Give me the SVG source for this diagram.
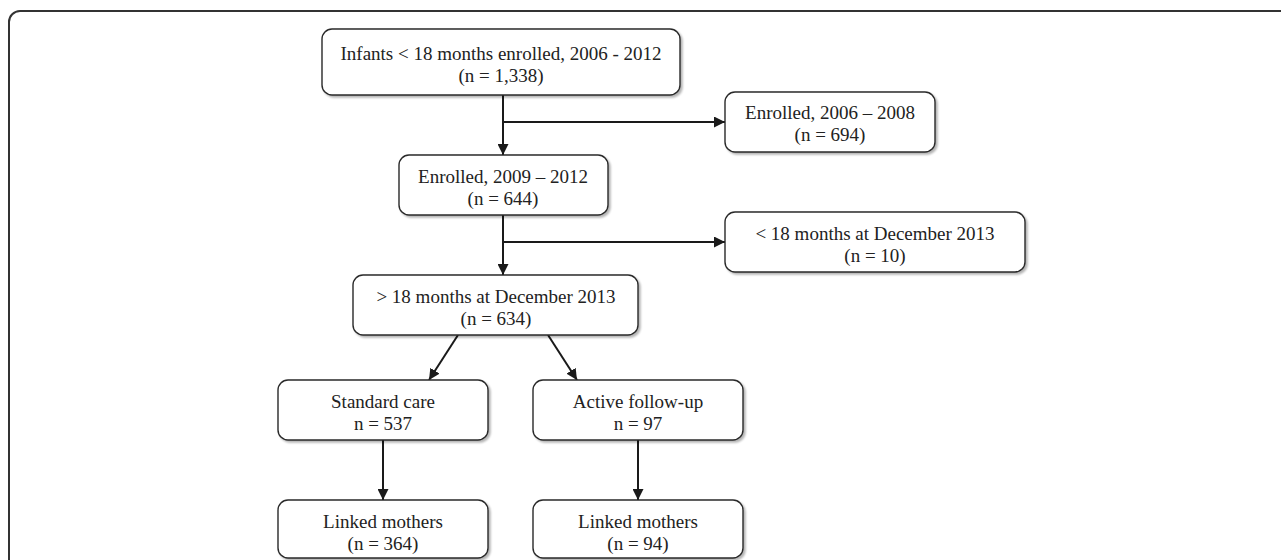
<svg xmlns="http://www.w3.org/2000/svg" width="1281" height="560" viewBox="0 0 1281 560">
<defs>
<marker id="arr" viewBox="0 0 10 10" refX="10" refY="5" markerWidth="11" markerHeight="11" markerUnits="userSpaceOnUse" orient="auto">
<path d="M0,0 L10,5 L0,10 z" fill="#1a1a1a"/>
</marker>
<filter id="sh" x="-10%" y="-10%" width="130%" height="140%">
<feGaussianBlur in="SourceAlpha" stdDeviation="1"/>
<feOffset dx="1.5" dy="1.5" result="o"/>
<feComponentTransfer><feFuncA type="linear" slope="0.3"/></feComponentTransfer>
<feMerge><feMergeNode/><feMergeNode in="SourceGraphic"/></feMerge>
</filter>
</defs>
<style>
.box{fill:#fff;stroke:#2a2a2a;stroke-width:1.4;filter:url(#sh)}
.t{font-family:"Liberation Serif","Times New Roman",serif;font-size:19px;fill:#222;text-anchor:middle}
.c{stroke:#1a1a1a;stroke-width:2;fill:none}
</style>
<rect x="0" y="0" width="1281" height="560" fill="#fff"/>
<rect x="9" y="11" width="1320" height="620" rx="11" fill="none" stroke="#333" stroke-width="2"/>
<g id="connectors">
<line class="c" x1="503" y1="95" x2="503" y2="155" marker-end="url(#arr)"/>
<line class="c" x1="503" y1="122" x2="725" y2="122" marker-end="url(#arr)"/>
<line class="c" x1="503" y1="215" x2="503" y2="275" marker-end="url(#arr)"/>
<line class="c" x1="503" y1="242" x2="725" y2="242" marker-end="url(#arr)"/>
<line class="c" x1="458" y1="335" x2="429" y2="380" marker-end="url(#arr)"/>
<line class="c" x1="548" y1="335" x2="577" y2="380" marker-end="url(#arr)"/>
<line class="c" x1="383" y1="440" x2="383" y2="500" marker-end="url(#arr)"/>
<line class="c" x1="638" y1="440" x2="638" y2="500" marker-end="url(#arr)"/>
</g>
<g id="n1">
<rect class="box" x="322" y="29" width="358" height="66" rx="10"/>
<text class="t" x="501" y="60">Infants &lt; 18 months enrolled, 2006 - 2012</text>
<text class="t" x="501" y="82">(n = 1,338)</text>
</g>
<g id="n2">
<rect class="box" x="725" y="92" width="210" height="60" rx="10"/>
<text class="t" x="830" y="119">Enrolled, 2006 – 2008</text>
<text class="t" x="830" y="141">(n = 694)</text>
</g>
<g id="n3">
<rect class="box" x="399" y="155" width="209" height="60" rx="10"/>
<text class="t" x="503" y="183">Enrolled, 2009 – 2012</text>
<text class="t" x="503" y="205">(n = 644)</text>
</g>
<g id="n4">
<rect class="box" x="725" y="212" width="300" height="60" rx="10"/>
<text class="t" x="875" y="240">&lt; 18 months at December 2013</text>
<text class="t" x="875" y="262">(n = 10)</text>
</g>
<g id="n5">
<rect class="box" x="353" y="275" width="285" height="60" rx="10"/>
<text class="t" x="496" y="303">&gt; 18 months at December 2013</text>
<text class="t" x="496" y="325">(n = 634)</text>
</g>
<g id="n6">
<rect class="box" x="278" y="380" width="210" height="60" rx="10"/>
<text class="t" x="383" y="408">Standard care</text>
<text class="t" x="383" y="430">n = 537</text>
</g>
<g id="n7">
<rect class="box" x="533" y="380" width="210" height="60" rx="10"/>
<text class="t" x="638" y="408">Active follow-up</text>
<text class="t" x="638" y="430">n = 97</text>
</g>
<g id="n8">
<rect class="box" x="278" y="500" width="210" height="58" rx="10"/>
<text class="t" x="383" y="528">Linked mothers</text>
<text class="t" x="383" y="550">(n = 364)</text>
</g>
<g id="n9">
<rect class="box" x="533" y="500" width="210" height="58" rx="10"/>
<text class="t" x="638" y="528">Linked mothers</text>
<text class="t" x="638" y="550">(n = 94)</text>
</g>
</svg>
